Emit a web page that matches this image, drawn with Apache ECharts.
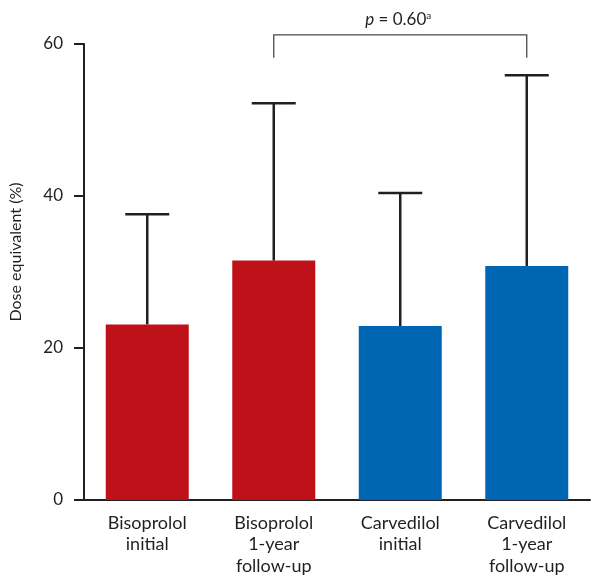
<!DOCTYPE html>
<html><head><meta charset="utf-8">
<style>html,body{margin:0;padding:0;background:#fff}#c{width:592px;height:581px}</style>
<script src="https://cdn.jsdelivr.net/npm/echarts@6/dist/echarts.min.js"></script>
</head><body><div id="c"></div>
<script>
var categories = ['Bisoprolol\ninitial', 'Bisoprolol\n1-year\nfollow-up', 'Carvedilol\ninitial', 'Carvedilol\n1-year\nfollow-up'];
var means = [23.1, 31.5, 22.9, 30.8];
var upperErrors = [37.6, 52.2, 40.4, 55.9];
var barColors = ['#BE111A', '#BE111A', '#0066B3', '#0066B3'];
var yTicks = [0, 20, 40, 60];
var bracketFrom = 1, bracketTo = 3, bracketTop = 61.2, bracketBottom = 58.2;

var chart = echarts.init(document.getElementById('c'), null, {renderer: 'canvas'});
var FONT = 'Lato';
chart.setOption({
  animation: false,
  grid: {left: 84, right: 2, top: 44, bottom: 81, containLabel: false},
  xAxis: {
    type: 'category', data: categories,
    axisLine: {lineStyle: {color: '#231f20', width: 2}},
    axisTick: {show: false},
    axisLabel: {color: '#231f20', fontFamily: FONT, fontSize: 18, lineHeight: 21.5, margin: 12, interval: 0}
  },
  yAxis: {
    type: 'value', min: yTicks[0], max: yTicks[yTicks.length - 1], interval: 20,
    name: 'Dose equivalent (%)', nameLocation: 'middle', nameGap: 60, nameRotate: 90,
    nameTextStyle: {color: '#231f20', fontFamily: FONT, fontSize: 16, padding: [0, 0, 0, 40]},
    axisLine: {show: true, lineStyle: {color: '#231f20', width: 2}},
    axisTick: {show: true, length: 10, lineStyle: {color: '#231f20', width: 2}},
    axisLabel: {color: '#231f20', fontFamily: FONT, fontSize: 17, margin: 21},
    splitLine: {show: false}
  },
  series: [
    {
      type: 'custom', z: 1, clip: false,
      data: means.map(function (m, i) { return [i, m, upperErrors[i]]; }),
      renderItem: function (params, api) {
        var i = api.value(0);
        var p0 = api.coord([i, api.value(1)]);
        var p1 = api.coord([i, api.value(2)]);
        var hw = 22;
        return {type: 'group', children: [
          {type: 'line', shape: {x1: p0[0], y1: p0[1], x2: p1[0], y2: p1[1]}, style: {stroke: '#231f20', lineWidth: 2.5}},
          {type: 'line', shape: {x1: p1[0] - hw, y1: p1[1], x2: p1[0] + hw, y2: p1[1]}, style: {stroke: '#231f20', lineWidth: 2.5}}
        ]};
      }
    },
    {
      type: 'bar', z: 2, barWidth: 83,
      data: means.map(function (m, i) { return {value: m, itemStyle: {color: barColors[i]}}; })
    },
    {
      type: 'custom', z: 3, clip: false,
      data: [[bracketFrom, bracketTo, bracketTop, bracketBottom]],
      renderItem: function (params, api) {
        var a = api.coord([api.value(0), api.value(2)]);
        var b = api.coord([api.value(1), api.value(2)]);
        var a2 = api.coord([api.value(0), api.value(3)]);
        var b2 = api.coord([api.value(1), api.value(3)]);
        return {type: 'group', children: [
          {type: 'polyline', shape: {points: [a2, a, b, b2]}, style: {stroke: '#4a4a4a', lineWidth: 1.3, fill: null}},
          {type: 'text', x: (a[0] + b[0]) / 2 - 2, y: a[1] - 15, style: {
            text: '{i|p} = 0.60{s|a}', align: 'center', verticalAlign: 'middle',
            fontFamily: FONT, fontSize: 17, fill: '#231f20',
            rich: {i: {fontStyle: 'italic', fontFamily: FONT, fontSize: 17, fill: '#231f20'},
                   s: {fontSize: 10, fontFamily: FONT, verticalAlign: 'top', fill: '#231f20', padding: [0, 0, 9, 0]}}
          }}
        ]};
      }
    }
  ]
});
</script></body></html>
